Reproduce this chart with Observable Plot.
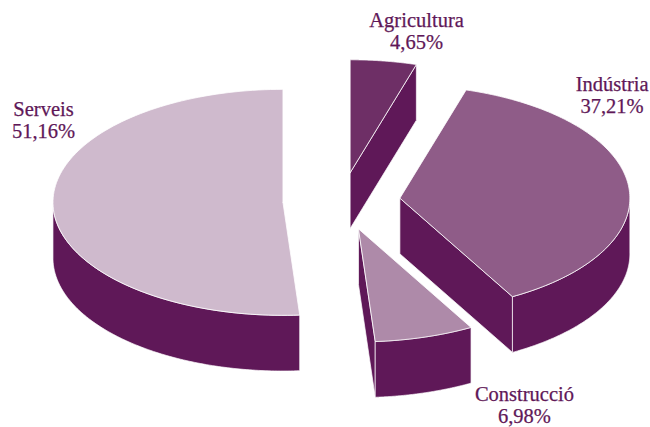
<!DOCTYPE html>
<html><head><meta charset="utf-8">
<style>html,body{margin:0;padding:0;background:#fff}svg{display:block}</style>
<script src="https://cdn.jsdelivr.net/npm/d3@7"></script>
<script src="https://cdn.jsdelivr.net/npm/@observablehq/plot@0.6"></script>
</head><body>
<script>
// Data, clockwise from twelve o'clock
const categories = ["Agricultura", "Indústria", "Construcció", "Serveis"];
const shares = [4.65, 37.21, 6.98, 51.16];

// Styles
const tones = ["#6e2f66", "#8f5c88", "#ae8aa9", "#cfbacd"];
const wallTone = "#5f1858";
const ink = "#5f1858";

// Layout, in pie units (radius = 1, y grows downward)
const explode = 0.255;
const depth = 0.493;
const labelX = [0.326, 1.176, 0.795, -1.296];
const labelY = [-1.507, -0.941, 1.804, -0.721];

const rad = d => d * Math.PI / 180;
const rim = (s, a) => ({X: s.ox + Math.sin(rad(a)), Y: s.oy - Math.cos(rad(a))});
const arc = (s, a, b) => d3.range(0, 121).map(i => rim(s, a + (b - a) * i / 120));

let acc = 0;
const slices = categories.map((name, i) => {
  const a = acc, b = acc + shares[i] * 3.6; acc = b;
  const mid = rad((a + b) / 2);
  return {name, a, b, ox: explode * Math.sin(mid), oy: -explode * Math.cos(mid)};
});

const tops = [], walls = [];
const push = (arr, id, name, pts) => pts.forEach(p => arr.push({...p, id, name}));
const down = pts => pts.map(p => ({X: p.X, Y: p.Y + depth}));
for (const s of slices) {
  const apex = {X: s.ox, Y: s.oy};
  push(tops, s.name, s.name, [apex, ...arc(s, s.a, s.b), apex]);
  // Cut faces that turn towards the viewer
  for (const [ang, key, vis] of [[s.a, "start", -Math.sin(rad(s.a))], [s.b, "end", Math.sin(rad(s.b))]]) {
    if (vis > 1e-6) {
      const edge = [apex, rim(s, ang)];
      const poly = [...edge, ...down(edge).reverse(), apex];
      push(walls, s.name + key, s.name, poly);
    }
  }
  // Outer wall: the front half of the rim
  const lo = Math.max(s.a, 90), hi = Math.min(s.b, 270);
  if (hi > lo) {
    const r = arc(s, lo, hi);
    push(walls, s.name + "rim", s.name, [...r, ...down(r).reverse(), r[0]]);
  }
}

const labels = categories.map((name, i) => ({
  X: labelX[i], Y: labelY[i],
  text: name + "\n" + shares[i].toFixed(2).replace(".", ",") + "%"
}));

const chart = Plot.plot({
  width: 650, height: 427,
  margin: 0,
  style: {background: "#fff"},
  x: {domain: [-1.4829, 1.3431], range: [0, 650], axis: null},
  y: {domain: [-1.777, 2.002], range: [0, 427], axis: null},
  color: {domain: categories, range: tones},
  marks: [
    Plot.line(walls, {x: "X", y: "Y", z: "id", fill: wallTone, stroke: "#fff", strokeWidth: 0.7, curve: "linear"}),
    Plot.line(tops, {x: "X", y: "Y", z: "id", fill: "name", stroke: "#fff", strokeWidth: 0.8, curve: "linear"}),
    Plot.text(labels, {x: "X", y: "Y", text: "text", fill: ink, stroke: ink, strokeWidth: 0.25, fontFamily: "Liberation Serif", fontSize: 20.5, lineHeight: 1.08, textAnchor: "middle"})
  ]
});
document.body.appendChild(chart);
</script>
</body></html>
